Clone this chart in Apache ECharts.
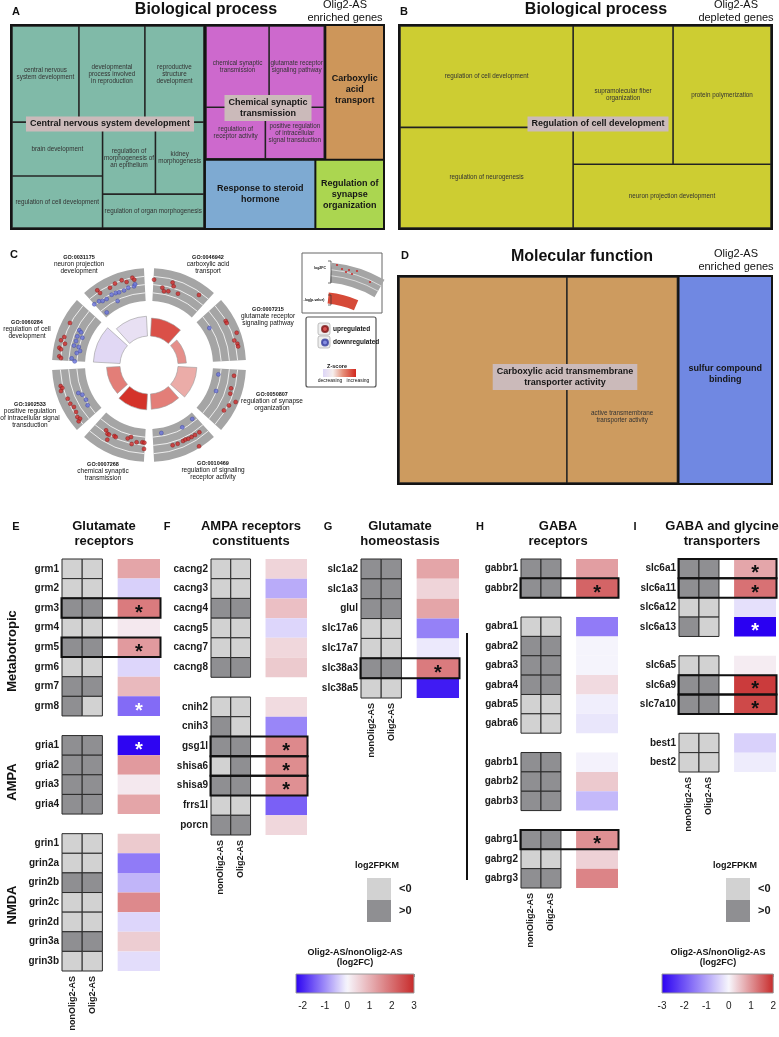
<!DOCTYPE html>
<html>
<head>
<meta charset="utf-8">
<script src="https://cdn.jsdelivr.net/npm/echarts@6.0.0/dist/echarts.min.js"></script>
<style>
html,body{margin:0;padding:0;background:#fff;}
#chart{width:779px;height:1037px;}
</style>
</head>
<body>
<div id="chart"></div>
<script>
// ======================= DATA =======================
// ---- Panel A: Biological process, Olig2-AS enriched genes (REVIGO treemap)
const A_groups = ['Central nervous system development','Chemical synaptic transmission','Carboxylic acid transport','Response to steroid hormone','Regulation of synapse organization'];
const A_groupLabels = [['Central nervous system development'],['Chemical synaptic','transmission'],['Carboxylic','acid','transport'],['Response to steroid','hormone'],['Regulation of','synapse','organization']];
const A_groupSizes = [0, 0, 8024, 7770, 4830];
const A_terms = [
  ['central nervous\nsystem development','developmental\nprocess involved\nin reproduction','reproductive\nstructure\ndevelopment','brain development','regulation of cell development','regulation of\nmorphogenesis of\nan epithelium','kidney\nmorphogenesis','regulation of organ morphogenesis'],
  ['chemical synaptic\ntransmission','glutamate receptor\nsignaling pathway','regulation of\nreceptor activity','positive regulation\nof intracellular\nsignal transduction'],
  [], [], []
];
const A_termSizes = [
  [6664, 6566, 5880, 5060, 4876, 3942, 3620, 3562],
  [5376, 4704, 3200, 3176],
  [], [], []
];
// ---- Panel B: Biological process, Olig2-AS depleted genes
const B_groups = ['Regulation of cell development'];
const B_groupLabels = [['Regulation of cell development']];
const B_groupSizes = [0];
const B_terms = [['regulation of cell development','regulation of neurogenesis','supramolecular fiber\norganization','protein polymerization','neuron projection development']];
const B_termSizes = [[18100, 17950, 14241, 13959, 13000]];
// ---- Panel D: Molecular function, Olig2-AS enriched genes
const D_groups = ['Carboxylic acid transmembrane transporter activity','sulfur compound binding'];
const D_groupLabels = [['Carboxylic acid transmembrane','transporter activity'],['sulfur compound','binding']];
const D_groupSizes = [0, 19740];
const D_terms = [['carboxylic acid transmembrane transporter activity','active transmembrane\ntransporter activity'], []];
const D_termSizes = [[35700, 23520], []];

// ---- Panel C: GOCircle
const C_terms = ['GO:0046942','GO:0007215','GO:0050807','GO:0010469','GO:0007268','GO:1902533','GO:0060284','GO:0031175'];
const C_desc = ['carboxylic acid\ntransport','glutamate receptor\nsignaling pathway','regulation of synapse\norganization','regulation of signaling\nreceptor activity','chemical synaptic\ntransmission','positive regulation\nof intracellular signal\ntransduction','regulation of cell\ndevelopment','neuron projection\ndevelopment'];
const C_negLogP = [6.0, 2.8, 6.3, 5.1, 5.3, 4.5, 8.9, 6.6];
const C_zscore = [2.8, 1.7, 1.2, 2.0, 3.3, 2.0, -0.9, -0.6];
// genes: [angle (deg, clockwise from top), log2FC position]
const C_up = [
  [3.4,1.21],[9.8,-0.48],[11.5,-1.28],[14.7,-1.04],[16,1.26],[17.4,0.46],[22.1,-0.85],[35.5,1.33],
  [60.1,1.92],[61.6,1.89],[69.8,3.13],[73.9,2.01],[76.4,2.52],[78.2,2.55],
  [97.2,1.26],[105.9,1.16],[109.4,1.38],[113.1,3.32],[116.8,2.21],[121.2,1.72],
  [163.6,0.78],[160,0.8],[155.9,0.68],[154,0.61],[151.9,0.73],[149.4,0.78],[146.7,0.8],[143.2,0.87],[148.4,3.64],
  [213.3,-0.56],[211.2,-0.05],[209.9,-0.05],[209.2,1.21],[206,-0.36],[204.8,-0.29],[196.2,-0.99],[194,-1.53],[189.1,-0.53],[184.9,-0.7],[183.4,-0.65],[183.4,0.87],[192.4,0.1],
  [256.6,2.5],[255.1,2.23],[253.5,2.74],[247.5,1.82],[243.8,1.75],[240.8,1.33],[237.2,1.53],[234,1.94],[232.1,1.67],[231.3,2.33],
  [298,2.18],[288.3,2.11],[285.7,2.64],[280.9,2.62],[280.1,2.16],[275.5,2.33],[274.5,1.89],[284.2,1.5],
  [325.3,2.5],[325.8,1.6],[333.2,1.48],[337.3,1.87],[342.1,2.06],[344.9,1.33],[349.2,2.04],[350.2,1.48]
];
const C_down = [
  [58.5,-2.35],
  [97.7,-2.55],[111.2,-2.08],
  [169.7,-2.76],[151.9,-2.38],[141.3,-2.74],
  [248.4,-1.09],[246,-1.82],[241.2,-2.08],[236.7,-1.72],
  [296.5,-0.65],[295.7,-1.24],[291.8,-0.8],[292.3,-2.06],[288.2,-0.9],[284.5,-0.73],[284.4,-1.92],[281.5,-2.45],[279.4,-1.75],[274.9,-0.7],[272.8,-1.48],
  [318,0.29],[321.9,0.12],[324.1,-0.36],[327.3,-0.51],[332,-0.22],[335.2,-0.29],[337.6,-0.46],[341.5,-0.44],[345,-0.12],[349.2,-0.1],[350.2,0.34],[321.2,-3.15],[333.9,-2.23]
];
const C_gridLines = [-2, 0, 2];

// ---- Panels E-I: heat maps (log2FPKM sign per group, log2FC Olig2-AS/nonOlig2-AS, significance)
const E_genes = ['grm1','grm2','grm3','grm4','grm5','grm6','grm7','grm8',null,'gria1','gria2','gria3','gria4',null,'grin1','grin2a','grin2b','grin2c','grin2d','grin3a','grin3b'];
const E_nonOlig2 = [-1,-1,1,-1,1,-1,1,1,null,1,1,1,1,null,-1,-1,1,-1,-1,1,-1];
const E_olig2    = [-1,-1,1,-1,1,-1,1,-1,null,1,1,1,1,null,-1,-1,1,-1,-1,1,-1];
const E_log2FC   = [1.2,-0.35,1.8,0.2,1.35,-0.3,0.9,-1.3,null,-2.25,1.35,0.2,1.2,null,0.65,-1.15,-0.6,1.6,-0.3,0.6,-0.23];
const E_sig      = [0,0,1,0,1,0,0,1,null,1,0,0,0,null,0,0,0,0,0,0,0];

const F_genes = ['cacng2','cacng3','cacng4','cacng5','cacng7','cacng8',null,'cnih2','cnih3','gsg1l','shisa6','shisa9','frrs1l','porcn'];
const F_nonOlig2 = [-1,-1,1,-1,-1,1,null,-1,1,1,-1,1,-1,1];
const F_olig2    = [-1,-1,1,-1,-1,1,null,-1,-1,1,1,1,-1,1];
const F_log2FC   = [0.5,-0.7,0.8,-0.3,0.45,0.65,null,0.4,-1.05,1.6,1.55,1.5,-1.4,0.45];
const F_sig      = [0,0,0,0,0,0,null,0,0,1,1,1,0,0];

const G_genes = ['slc1a2','slc1a3','glul','slc17a6','slc17a7','slc38a3','slc38a5'];
const G_nonOlig2 = [1,1,1,-1,-1,1,-1];
const G_olig2    = [1,1,1,-1,-1,1,-1];
const G_log2FC   = [1.2,0.5,1.2,-1.1,-0.12,1.8,-2.05];
const G_sig      = [0,0,0,0,0,1,0];

const H_genes = ['gabbr1','gabbr2',null,'gabra1','gabra2','gabra3','gabra4','gabra5','gabra6',null,'gabrb1','gabrb2','gabrb3',null,'gabrg1','gabrg2','gabrg3'];
const H_nonOlig2 = [1,1,null,-1,1,1,1,-1,-1,null,1,1,1,null,1,-1,1];
const H_olig2    = [1,1,null,-1,1,1,1,-1,-1,null,1,1,1,null,1,-1,1];
const H_log2FC   = [0.86,1.43,null,-1.5,-0.03,-0.03,0.27,-0.1,-0.2,null,-0.05,0.44,-0.74,null,1.0,0.36,1.12];
const H_sig      = [0,1,null,0,0,0,0,0,0,null,0,0,0,null,1,0,0];

const I_genes = ['slc6a1','slc6a11','slc6a12','slc6a13',null,'slc6a5','slc6a9','slc7a10',null,'best1','best2'];
const I_nonOlig2 = [1,1,-1,1,null,-1,1,1,null,-1,-1];
const I_olig2    = [1,1,-1,-1,null,-1,1,1,null,-1,-1];
const I_log2FC   = [0.78,1.3,-0.27,-3.0,null,0.1,1.83,1.7,null,-0.45,-0.13];
const I_sig      = [1,1,0,1,null,0,1,1,null,0,0];

const SAMPLE_LABELS = ['nonOlig2-AS','Olig2-AS'];
const FC_SCALES = [[-2.3, 3], [-3, 2]];
const FC_TICKS = [[-2,-1,0,1,2,3], [-3,-2,-1,0,1,2]];

// ======================= BUILD =======================
const FONT = '"Liberation Sans", Arial, Helvetica, sans-serif';
const series = [], grid = [], xAxis = [], yAxis = [], visualMap = [], graphic = [];

function txt(x, y, text, size, weight, align, vAlign, lh, extra) {
  graphic.push(Object.assign({type:'text', x:x, y:y, silent:true, z:10,
    style:{text:text, fontSize:size, fontWeight:weight||'normal', fontFamily:FONT, fill:'#111',
           align:align||'center', verticalAlign:vAlign||'middle', lineHeight:lh||Math.round(size*1.15)}}, extra||{}));
}
function hex2rgb(h){h=h.replace('#','');return [0,2,4].map(i=>parseInt(h.substr(i,2),16));}
function mix(a,b,t){const A=hex2rgb(a),B=hex2rgb(b);return 'rgb('+A.map((v,i)=>Math.round(v+(B[i]-v)*t)).join(',')+')';}
function divergingStops(min,max,neg,mid,pos,n){
  const out=[];
  for(let k=0;k<n;k++){const v=min+(max-min)*k/(n-1);out.push(v<0?mix(mid,neg,v/min):mix(mid,pos,v/max));}
  return out;
}

// ---------- treemaps ----------
function buildTreemap(box, groups, labels, groupSizes, terms, termSizes, colors, opts) {
  const data = groups.map((g, i) => {
    const node = {name:g, itemStyle:{color:colors[i]}};
    if (terms[i].length) {
      node.children = terms[i].map((t, j) => {
        const c = {name:t, value:termSizes[i][j], itemStyle:{color:colors[i]}};
        if (opts.hideTerm && opts.hideTerm.indexOf(t) >= 0) c.label = {show:false};
        if (opts.termPos && opts.termPos[t]) c.label = {position:opts.termPos[t], align:'center', verticalAlign:'middle'};
        return c;
      });
      node.value = termSizes[i].reduce((a,b)=>a+b,0);
    } else {
      node.value = groupSizes[i];
      node.label = {show:true, formatter:labels[i].join('\n'), fontSize:9, fontWeight:'bold', color:'#161616', lineHeight:11,
                    offset:(opts.offsets && opts.offsets[i]) || [0,0]};
    }
    return node;
  });
  series.push({type:'treemap', left:box[0], top:box[1], width:box[2], height:box[3], roam:false, nodeClick:false,
    breadcrumb:{show:false}, silent:true, sort:'desc', animation:false, visibleMin:0, upperLabel:{show:false}, z:2,
    label:{show:true, position:'inside', color:'#333', fontSize:6.3, lineHeight:7, fontFamily:FONT, overflow:'none'},
    levels:[
      {itemStyle:{borderWidth:1, borderColor:'#141414', gapWidth:0}},
      {itemStyle:{borderWidth:1, borderColor:'#141414', gapWidth:0}},
      {itemStyle:{borderWidth:0.8, borderColor:'#262626', gapWidth:0}}
    ],
    data:data
  });
  // representative-term labels of the groups that hold several terms
  groups.forEach((g, i) => {
    if (!terms[i].length) return;
    const p = opts.labelAt[i];
    graphic.push({type:'text', x:p[0], y:p[1], z:10, silent:true,
      style:{text:labels[i].join('\n'), fontSize:9, fontWeight:'bold', fontFamily:FONT, fill:'#161616',
             backgroundColor:'#cbbaba', padding:[2,4], align:'center', verticalAlign:'middle', lineHeight:11}});
  });
}
buildTreemap([10,24,375,206], A_groups, A_groupLabels, A_groupSizes, A_terms, A_termSizes,
  ['#80baa8','#cd69cd','#cd965a','#7eaad2','#abd650'], {offsets:[null,null,[0,-3]], labelAt:[[110,124],[268,108]]});
buildTreemap([398,24,375,206], B_groups, B_groupLabels, B_groupSizes, B_terms, B_termSizes,
  ['#cdcd32'], {labelAt:[[598,124]]});
buildTreemap([397,275,376,210], D_groups, D_groupLabels, D_groupSizes, D_terms, D_termSizes,
  ['#cd9b5f','#7088e2'], {offsets:[null,[0,-6]], labelAt:[[565,377]],
   hideTerm:['carboxylic acid transmembrane transporter activity'],
   termPos:{'active transmembrane\ntransporter activity':['50%','68%']}});

// ---------- panel C (GOCircle) ----------
const C_CENTER = [149, 365];
const C_GAP = 3;
const OUT_RANGE = [-4, 4];
const polar = [
  {center:C_CENTER, radius:[29, 56]},
  {center:C_CENTER, radius:[64, 97]}
];
const angleAxis = [
  {polarIndex:0, type:'value', min:0, max:360, startAngle:90, clockwise:true, show:false},
  {polarIndex:1, type:'value', min:0, max:360, startAngle:90, clockwise:true, show:false}
];
const radiusAxis = [
  {polarIndex:0, type:'value', min:0, max:9, show:false},
  {polarIndex:1, type:'value', min:OUT_RANGE[0], max:OUT_RANGE[1], show:false}
];
function polarSector(params, api, vA, vB, aA, aB) {
  const cs = params.coordSys, cx = cs.cx, cy = cs.cy;
  const p1 = api.coord([vA, aA]), p2 = api.coord([vB, aA]), p3 = api.coord([vB, aB]);
  const r0 = Math.hypot(p1[0]-cx, p1[1]-cy), r = Math.hypot(p2[0]-cx, p2[1]-cy);
  const s = Math.atan2(p2[1]-cy, p2[0]-cx);
  let e = Math.atan2(p3[1]-cy, p3[0]-cx);
  if (e <= s) e += Math.PI*2;
  return {cx:cx, cy:cy, r0:r0, r:r, startAngle:s, endAngle:e, clockwise:true};
}
series.push({type:'custom', coordinateSystem:'polar', polarIndex:1, silent:true, z:1, animation:false,
  data:C_terms.map((t,i)=>[i]),
  renderItem:(params, api)=>{
    const i = api.value(0);
    return {type:'sector', shape:polarSector(params, api, OUT_RANGE[0], OUT_RANGE[1], i*45+C_GAP, (i+1)*45-C_GAP), style:{fill:'#a5a5a5'}};
  }});
series.push({type:'custom', coordinateSystem:'polar', polarIndex:1, silent:true, z:2, animation:false,
  data:C_terms.flatMap((t,i)=>C_gridLines.map(v=>[v, i])),
  renderItem:(params, api)=>{
    const v = api.value(0), i = api.value(1);
    const s = polarSector(params, api, v, v, i*45+C_GAP, (i+1)*45-C_GAP);
    return {type:'arc', shape:{cx:s.cx, cy:s.cy, r:s.r, startAngle:s.startAngle, endAngle:s.endAngle, clockwise:true},
            style:{stroke:'#ffffff', lineWidth:0.8, fill:null}};
  }});
const ringIdx = series.length;
series.push({type:'custom', coordinateSystem:'polar', polarIndex:0, silent:true, z:2, animation:false,
  data:C_terms.map((t,i)=>[C_negLogP[i], i, C_zscore[i]]),
  renderItem:(params, api)=>{
    const i = api.value(1);
    return {type:'sector', shape:polarSector(params, api, 0, api.value(0), i*45+C_GAP, (i+1)*45-C_GAP),
            style:{fill:api.visual('color'), stroke:'#9a9a9a', lineWidth:0.6}};
  }});
visualMap.push({type:'continuous', show:false, seriesIndex:[ringIdx], dimension:2, min:-1.2, max:3.5,
  inRange:{color:divergingStops(-1.2, 3.5, '#d9d0f6', '#f8f1f0', '#d2281e', 41)}});
series.push({type:'scatter', name:'upregulated', coordinateSystem:'polar', polarIndex:1, z:3, silent:true, animation:false,
  symbolSize:4, itemStyle:{color:'#d12c2c', borderColor:'#7a1414', borderWidth:0.5},
  data:C_up.map(p=>[p[1], p[0]])});
series.push({type:'scatter', name:'downregulated', coordinateSystem:'polar', polarIndex:1, z:3, silent:true, animation:false,
  symbolSize:4, itemStyle:{color:'#6a74dc', borderColor:'#343c9c', borderWidth:0.5},
  data:C_down.map(p=>[p[1], p[0]])});
const C_labelPos = [[208,257],[268,309],[272,394],[213,463],[103,464],[30,404],[27,322],[79,257]];
C_terms.forEach((t,i)=>{
  const p = C_labelPos[i];
  txt(p[0], p[1], t, 5.5, 'bold');
  txt(p[0], p[1]+3.5, C_desc[i], 6.5, 'normal', 'center', 'top', 7);
});

// C key boxes
graphic.push({type:'rect', shape:{x:302,y:253,width:80,height:60}, style:{fill:'#fff', stroke:'#666', lineWidth:1}, z:1, silent:true});
graphic.push({type:'sector', shape:{cx:318, cy:395, r0:113, r:133, startAngle:-84*Math.PI/180, endAngle:-60*Math.PI/180}, style:{fill:'#a5a5a5'}, z:2, silent:true});
[120,126].forEach(r=>graphic.push({type:'arc', shape:{cx:318, cy:395, r:r, startAngle:-84*Math.PI/180, endAngle:-60*Math.PI/180}, style:{stroke:'#fff', lineWidth:0.6, fill:null}, z:3, silent:true}));
graphic.push({type:'sector', shape:{cx:318, cy:395, r0:92, r:103, startAngle:-84*Math.PI/180, endAngle:-67*Math.PI/180}, style:{fill:'#d64a38'}, z:2, silent:true});
[[337,265],[342,269],[346,272],[349,270],[352,274],[357,271],[370,282]].forEach(p=>graphic.push({type:'circle', shape:{cx:p[0], cy:p[1], r:1.1}, style:{fill:'#c83030'}, z:4, silent:true}));
graphic.push({type:'polyline', shape:{points:[[328,261],[331,261],[331,283],[328,283]]}, style:{stroke:'#333', lineWidth:0.7, fill:null}, z:4, silent:true});
graphic.push({type:'polyline', shape:{points:[[328,295],[331,295],[331,305],[328,305]]}, style:{stroke:'#333', lineWidth:0.7, fill:null}, z:4, silent:true});
txt(320, 268, 'log2FC', 3.5, 'bold');
txt(314, 300, '-log(p-value)', 3.5, 'bold');
graphic.push({type:'rect', shape:{x:306,y:317,width:70,height:70, r:2}, style:{fill:'#fff', stroke:'#555', lineWidth:1.2}, z:1, silent:true});
graphic.push({type:'rect', shape:{x:318,y:323,width:12,height:12, r:2}, style:{fill:'#eeeeee', stroke:'#999', lineWidth:0.6}, z:2, silent:true});
graphic.push({type:'rect', shape:{x:318,y:336,width:12,height:12, r:2}, style:{fill:'#eeeeee', stroke:'#999', lineWidth:0.6}, z:2, silent:true});
txt(337, 366, 'Z-score', 5.5, 'bold');
graphic.push({type:'rect', shape:{x:323,y:369,width:33,height:8}, style:{fill:new echarts.graphic.LinearGradient(0,0,1,0,[{offset:0,color:'#ddd6f7'},{offset:0.3,color:'#f6eeec'},{offset:0.6,color:'#e6907a'},{offset:1,color:'#d2281e'}])}, z:2, silent:true});
txt(330, 381, 'decreasing', 5, 'normal');
txt(358, 381, 'increasing', 5, 'normal');

// ---------- panels E-I ----------
const PANELS = [
  {key:'E', genes:E_genes, non:E_nonOlig2, olig:E_olig2, fc:E_log2FC, sig:E_sig, scale:0, box:[62,559,98,412]},
  {key:'F', genes:F_genes, non:F_nonOlig2, olig:F_olig2, fc:F_log2FC, sig:F_sig, scale:0, box:[211,559,96,276]},
  {key:'G', genes:G_genes, non:G_nonOlig2, olig:G_olig2, fc:G_log2FC, sig:G_sig, scale:0, box:[361,559,98,139]},
  {key:'H', genes:H_genes, non:H_nonOlig2, olig:H_olig2, fc:H_log2FC, sig:H_sig, scale:1, box:[521,559,97,329]},
  {key:'I', genes:I_genes, non:I_nonOlig2, olig:I_olig2, fc:I_log2FC, sig:I_sig, scale:1, box:[679,559,97,213]}
];
const GRAY_X = [[0,0.206],[0.206,0.412]];
const FC_X = [0.568, 1];
const FC_MID = (FC_X[0]+FC_X[1])/2;
const grayIdx = [[],[]], fcIdx = [[],[]];
function cellRect(api, x0, x1, row) {
  const a = api.coord([x0, row]), b = api.coord([x1, row]);
  const h = api.size([0,1])[1];
  return {x:a[0], y:a[1]-h/2, width:b[0]-a[0], height:h};
}
PANELS.forEach(P=>{
  const gi = grid.length;
  grid.push({left:P.box[0], top:P.box[1], width:P.box[2], height:P.box[3]});
  const xi = xAxis.length, yi = yAxis.length;
  xAxis.push({gridIndex:gi, type:'value', min:0, max:1, axisLine:{show:false}, axisTick:{show:false}, splitLine:{show:false},
    axisLabel:{customValues:[(GRAY_X[0][0]+GRAY_X[0][1])/2, (GRAY_X[1][0]+GRAY_X[1][1])/2],
      formatter:v=> v < GRAY_X[0][1] ? SAMPLE_LABELS[0] : SAMPLE_LABELS[1],
      rotate:90, fontSize:9, fontWeight:'bold', color:'#1a1a1a', margin:5, fontFamily:FONT}});
  yAxis.push({gridIndex:gi, type:'category', inverse:true, data:P.genes.map((g,i)=> g===null ? '\u00a0'.repeat(i+1) : g),
    axisLine:{show:false}, axisTick:{show:false}, splitLine:{show:false},
    axisLabel:{fontSize:10, fontWeight:'bold', color:'#1a1a1a', margin:3, fontFamily:FONT}});
  const gData = [], fData = [], bData = [], sData = [];
  P.genes.forEach((g,i)=>{
    if (g === null) return;
    gData.push([0, i, P.non[i]]); gData.push([1, i, P.olig[i]]);
    fData.push([FC_MID, i, P.fc[i]]);
    if (P.sig[i]) { sData.push([FC_MID, i, P.fc[i]]); if (P.fc[i] > 0) bData.push([0.5, i]); }
  });
  grayIdx[P.scale].push(series.length);
  series.push({type:'custom', xAxisIndex:xi, yAxisIndex:yi, silent:true, animation:false, z:2, data:gData, encode:{x:0, y:1},
    renderItem:(params, api)=>{
      const c = api.value(0);
      return {type:'rect', shape:cellRect(api, GRAY_X[c][0], GRAY_X[c][1], api.value(1)),
              style:{fill:api.visual('color'), stroke:'#2a2a2a', lineWidth:1}};
    }});
  fcIdx[P.scale].push(series.length);
  series.push({type:'custom', xAxisIndex:xi, yAxisIndex:yi, silent:true, animation:false, z:2, data:fData, encode:{x:0, y:1},
    renderItem:(params, api)=>({type:'rect', shape:cellRect(api, FC_X[0], FC_X[1], api.value(1)),
              style:{fill:api.visual('color')}})});
  series.push({type:'custom', xAxisIndex:xi, yAxisIndex:yi, silent:true, animation:false, z:4, data:bData, encode:{x:0, y:1},
    renderItem:(params, api)=>{
      const r = cellRect(api, 0, 1, api.value(1));
      return {type:'rect', shape:{x:r.x-0.5, y:r.y, width:r.width+1, height:r.height}, style:{fill:null, stroke:'#111', lineWidth:2}};
    }});
  series.push({type:'custom', xAxisIndex:xi, yAxisIndex:yi, silent:true, animation:false, z:5, data:sData, encode:{x:0, y:1},
    renderItem:(params, api)=>{
      const p = api.coord([api.value(0), api.value(1)]);
      return {type:'text', x:p[0], y:p[1]+5, style:{text:'*', fontSize:20, fontWeight:'bold', fontFamily:FONT,
              fill: api.value(2) > 0 ? '#111' : '#ffffff', align:'center', verticalAlign:'middle'}};
    }});
});

const FC_NEG = '#2a00f2', FC_MID_C = '#f7f6fc', FC_POS = '#c72a2a';
[0,1].forEach(s=>{
  visualMap.push({type:'continuous', show:false, seriesIndex:fcIdx[s], dimension:2, min:FC_SCALES[s][0], max:FC_SCALES[s][1],
    inRange:{color:divergingStops(FC_SCALES[s][0], FC_SCALES[s][1], FC_NEG, FC_MID_C, FC_POS, 51)}});
});
const FPKM_LEG = [[367,878],[726,878]];
[0,1].forEach(s=>{
  visualMap.push({type:'piecewise', seriesIndex:grayIdx[s], dimension:2, orient:'vertical', inverse:true, align:'left',
    left:FPKM_LEG[s][0], top:FPKM_LEG[s][1], padding:0, itemWidth:24, itemHeight:22, itemGap:0, itemSymbol:'rect',
    textGap:8, selectedMode:false, textStyle:{fontSize:11, fontWeight:'bold', color:'#1a1a1a', fontFamily:FONT},
    pieces:[{lt:0, label:'<0', color:'#d2d2d2'}, {gt:0, label:'>0', color:'#8f8f92'}]});
});
txt(377, 866, 'log2FPKM', 9, 'bold');
txt(735, 866, 'log2FPKM', 9, 'bold');

const CB_BOX = [[296,974,118,19],[662,974,112,19]];
const CB_TITLE_X = [355, 718];
[0,1].forEach(s=>{
  const b = CB_BOX[s], min = FC_SCALES[s][0], max = FC_SCALES[s][1];
  const gi = grid.length;
  grid.push({left:b[0], top:b[1], width:b[2], height:b[3]});
  const xi = xAxis.length;
  xAxis.push({gridIndex:gi, type:'value', min:min, max:max, position:'bottom', axisLine:{show:false}, splitLine:{show:false}, axisTick:{show:false},
    axisLabel:{customValues:FC_TICKS[s], fontSize:10, color:'#222', margin:8, fontFamily:FONT, formatter:v=>String(v)}});
  xAxis.push({gridIndex:gi, type:'value', min:min, max:max, position:'top', axisLine:{show:false}, splitLine:{show:false},
    axisLabel:{show:false}, axisTick:{show:true, inside:true, length:3, customValues:FC_TICKS[s], lineStyle:{color:'#888', width:1}}});
  const yi = yAxis.length;
  yAxis.push({gridIndex:gi, type:'value', min:0, max:1, show:false});
  const stops = divergingStops(min, max, FC_NEG, FC_MID_C, FC_POS, 51);
  series.push({type:'custom', xAxisIndex:xi, yAxisIndex:yi, silent:true, animation:false, z:1, data:[[min, max]],
    renderItem:(params, api)=>{
      const a = api.coord([api.value(0), 0]), c = api.coord([api.value(1), 1]);
      return {type:'rect', shape:{x:a[0], y:c[1], width:c[0]-a[0], height:a[1]-c[1]},
        style:{fill:new echarts.graphic.LinearGradient(0,0,1,0, stops.map((col,k)=>({offset:k/(stops.length-1), color:col}))), stroke:'#9a9a9a', lineWidth:1}};
    }});
  txt(CB_TITLE_X[s], 953, 'Olig2-AS/nonOlig2-AS', 9, 'bold');
  txt(CB_TITLE_X[s], 963, '(log2FC)', 9, 'bold');
});

// ---------- static texts ----------
[['A',16,12],['B',404,12],['C',14,255],['D',405,256],['E',16,527],['F',167,527],['G',328,527],['H',480,527],['I',635,527]]
  .forEach(l=>txt(l[1], l[2], l[0], 11, 'bold'));
txt(206, 10, 'Biological process', 16, 'bold');
txt(345, 11, 'Olig2-AS\nenriched genes', 11, 'normal');
txt(596, 10, 'Biological process', 16, 'bold');
txt(736, 11, 'Olig2-AS\ndepleted genes', 11, 'normal');
txt(582, 257, 'Molecular function', 16, 'bold');
txt(736, 260, 'Olig2-AS\nenriched genes', 11, 'normal');
[['Glutamate\nreceptors',104],['AMPA receptors\nconstituents',251],['Glutamate\nhomeostasis',400],['GABA\nreceptors',558],['GABA and glycine\ntransporters',722]]
  .forEach(t=>txt(t[1], 534, t[0], 13, 'bold'));
[['Metabotropic',651],['AMPA',782],['NMDA',905]].forEach(t=>txt(12, t[1], t[0], 13, 'bold', 'center', 'middle', 15, {rotation:Math.PI/2}));
graphic.push({type:'line', shape:{x1:467, y1:633, x2:467, y2:880}, style:{stroke:'#111', lineWidth:2}, silent:true});

// ======================= RENDER =======================
const chart = echarts.init(document.getElementById('chart'), null, {renderer:'canvas', width:779, height:1037});
chart.setOption({
  animation:false,
  backgroundColor:'#ffffff',
  textStyle:{fontFamily:FONT},
  legend:{data:['upregulated','downregulated'], orient:'vertical', left:321, top:325, itemWidth:6, itemHeight:6, itemGap:5.5,
    icon:'circle', selectedMode:false, padding:0, textStyle:{fontSize:6.5, fontWeight:'bold', color:'#111', fontFamily:FONT}, z:10},
  polar:polar, angleAxis:angleAxis, radiusAxis:radiusAxis,
  grid:grid, xAxis:xAxis, yAxis:yAxis,
  visualMap:visualMap,
  graphic:{elements:graphic},
  series:series
});
</script>
</body>
</html>
